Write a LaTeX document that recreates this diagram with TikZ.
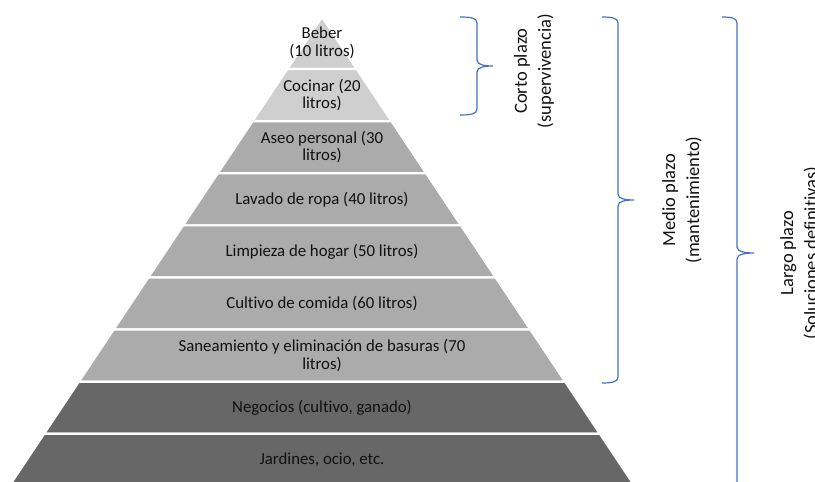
\documentclass[tikz,border=0pt]{standalone}
\usepackage{fontspec}
\setmainfont{Carlito}[Ligatures=NoCommon]
\usetikzlibrary{positioning}
\definecolor{braceblue}{HTML}{4472C4}
\definecolor{tierlight}{HTML}{CFCFCF}
\definecolor{tiermid}{HTML}{ABABAB}
\definecolor{tierdark}{HTML}{676767}
\definecolor{inkdark}{HTML}{111111}

% right-hand brace: outer x, spine x, tip x, top y, bottom y
\newcommand{\plazobrace}[5]{%
  \pgfmathsetmacro{\ymid}{(#4+#5)/2}
  \draw[plazo] (#1,#4) .. controls (#2-6,#4) and (#2,#4-1) .. (#2,#4-6)
     -- (#2,\ymid+6) .. controls (#2,\ymid+1) and (#3-8,\ymid) .. (#3,\ymid)
     .. controls (#3-8,\ymid) and (#2,\ymid-1) .. (#2,\ymid-6)
     -- (#2,#5+6) .. controls (#2,#5+1) and (#2-6,#5) .. (#1,#5);
}

\begin{document}
\begin{tikzpicture}[
    x=1pt, y=1pt,
    tier/.style={draw=white, line width=2.2pt, line join=miter},
    tiertext/.style={align=center, text=inkdark, inner sep=0pt,
                     font=\fontsize{16.8}{17.5}\selectfont},
    plazo/.style={draw=braceblue, line width=1.2pt},
    plazolabel/.style={align=center, rotate=90, text=inkdark, inner sep=0pt,
                       font=\fontsize{18.5}{24}\selectfont},
]
    \clip (0,0) rectangle (815,482);

    % ============================================================
    %  PYRAMID TIERS (apex at 322,465; each tier 52.1 high)
    % ============================================================
    \foreach \k/\shade/\txt in {
        0/tierlight/{Beber\\(10 litros)},
        1/tierlight/{Cocinar (20\\litros)},
        2/tiermid/{Aseo personal (30\\litros)},
        3/tiermid/{Lavado de ropa (40 litros)},
        4/tiermid/{Limpieza de hogar (50 litros)},
        5/tiermid/{Cultivo de comida (60 litros)},
        6/tiermid/{Saneamiento y eliminación de basuras (70\\litros)},
        7/tierdark/{Negocios (cultivo, ganado)},
        8/tierdark/{Jardines, ocio, etc.}} {
        \pgfmathsetmacro{\yt}{465-\k*52.1}
        \pgfmathsetmacro{\yb}{\yt-52.1}
        \pgfmathsetmacro{\wt}{(465-\yt)*0.6667}
        \pgfmathsetmacro{\wb}{(465-\yb)*0.6667}
        \filldraw[tier, fill=\shade] (322-\wt,\yt) -- (322+\wt,\yt)
            -- (322+\wb,\yb) -- (322-\wb,\yb) -- cycle;
        \node[tiertext] (tier\k) at (322,{(\yt+\yb)/2}) {\txt};
    }

    % ============================================================
    %  TIME-FRAME BRACES
    % ============================================================
    \plazobrace{460}{477}{493}{465}{367}
    \plazobrace{602}{618}{634}{465}{99}
    \plazobrace{722}{737}{754}{465}{-7}

    \node[plazolabel] (corto) at (534,411) {Corto plazo\\(supervivencia)};
    \node[plazolabel] (medio) at (682,282) {Medio plazo\\(mantenimiento)};
    \node[plazolabel] (largo) at (800,229) {Largo plazo\\(Soluciones definitivas)};

\end{tikzpicture}
\end{document}
